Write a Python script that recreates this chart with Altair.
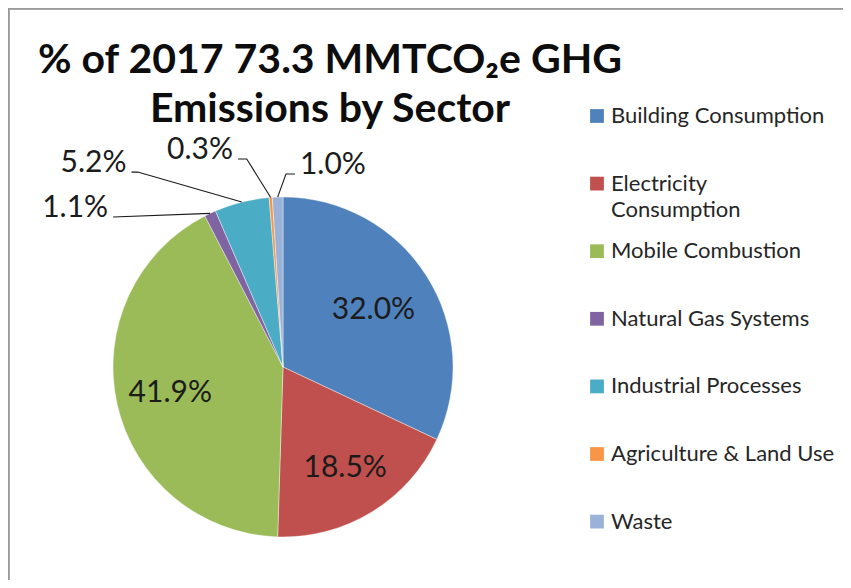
import math
import altair as alt
import pandas as pd

# ---------------- data ----------------
sectors = ["Building Consumption", "Electricity Consumption", "Mobile Combustion",
           "Natural Gas Systems", "Industrial Processes", "Agriculture & Land Use", "Waste"]
shares = [32.0, 18.5, 41.9, 1.1, 5.2, 0.3, 1.0]
legend_lines = [["Building Consumption"], ["Electricity", "Consumption"], ["Mobile Combustion"],
                ["Natural Gas Systems"], ["Industrial Processes"], ["Agriculture & Land Use"], ["Waste"]]
title_lines = ["% of 2017 73.3 MMTCO\u2082e GHG", "Emissions by Sector"]

# ---------------- style ----------------
colors = ["#4F81BD", "#C0504D", "#9BBB59", "#8064A2", "#4BACC6", "#F79646", "#9BB2D8"]
W, H = 835, 572
CX, CY, R = 275, 359, 170
FONT = "Lato"
inside_radius = {0: 0.63, 1: 0.70, 2: 0.68}
# elbow offset from slice edge (dx, dy), horizontal tail length, side
outside = {3: (-97, 3.6, 0, -1), 4: (-104, -30, 6.3, -1), 5: (-24, -38.4, 8.7, -1), 6: (8.3, -23.1, 9, 1)}
TEXT_GAP = 5
LEG_X, LEG_TOP, LEG_STEP, LEG_LH = 589, 108, 67.6, 26
TITLE_X, TITLE_Y, TITLE_LH = 322, 65, 49

# ---------------- derived tables ----------------
pie = pd.DataFrame({"sector": sectors, "share": shares, "idx": range(len(sectors))})
total = sum(shares)
cum = 0.0
inside_rows, line_rows, out_rows = [], [], []
for i, (s, v) in enumerate(zip(sectors, shares)):
    mid = (cum + v / 2) / total * 2 * math.pi
    cum += v
    label = f"{v:.1f}%"
    if i in inside_radius:
        r = inside_radius[i] * R
        inside_rows.append({"sector": s, "label": label,
                            "x": CX + r * math.sin(mid), "y": CY - r * math.cos(mid)})
    else:
        ex, ey = CX + R * math.sin(mid), CY - R * math.cos(mid)
        dx, dy, tail, side = outside[i]
        bx, by = ex + dx, ey + dy
        ax_, ay_ = bx + side * tail, by
        for k, (px, py) in enumerate([(ex, ey), (bx, by), (ax_, ay_)]):
            line_rows.append({"sector": s, "k": k, "x": px, "y": py})
        out_rows.append({"sector": s, "label": label, "x": ax_ + side * TEXT_GAP, "y": ay_,
                         "align": "left" if side > 0 else "right"})

inside_df = pd.DataFrame(inside_rows)
lines_df = pd.DataFrame(line_rows)
out_df = pd.DataFrame(out_rows)

leg_sym = pd.DataFrame({"sector": sectors, "x": [LEG_X] * len(sectors),
                        "y": [LEG_TOP + i * LEG_STEP for i in range(len(sectors))]})
leg_txt_rows = []
for i, (s, parts) in enumerate(zip(sectors, legend_lines)):
    for k, p in enumerate(parts):
        leg_txt_rows.append({"text": p, "x": LEG_X + 14, "y": LEG_TOP + i * LEG_STEP + k * LEG_LH})
leg_txt = pd.DataFrame(leg_txt_rows)

title_df = pd.DataFrame({"text": title_lines, "x": [TITLE_X] * 2,
                         "y": [TITLE_Y + k * TITLE_LH for k in range(2)]})

xs = alt.Scale(domain=[0, W], range=[0, W], nice=False, zero=False)
ys = alt.Scale(domain=[0, H], range=[0, H], nice=False, zero=False)
X = alt.X("x:Q", scale=xs, axis=None)
Y = alt.Y("y:Q", scale=ys, axis=None)
color = alt.Color("sector:N", scale=alt.Scale(domain=sectors, range=colors), legend=None)

arcs = alt.Chart(pie).mark_arc(outerRadius=R, stroke="#ffffff", strokeWidth=0.4).encode(
    theta=alt.Theta("share:Q", stack=True),
    color=color,
    order=alt.Order("idx:Q"),
    x=alt.value(CX), y=alt.value(CY),
)

inside_txt = alt.Chart(inside_df).mark_text(font=FONT, fontSize=30, color="#1b1b1b",
                                            baseline="middle", align="center").encode(
    x=X, y=Y, text="label:N")

leaders = alt.Chart(lines_df).mark_line(color="#1a1a1a", strokeWidth=1.1).encode(
    x=X, y=Y, detail="sector:N", order="k:Q")

out_left = alt.Chart(out_df[out_df["align"] == "right"]).mark_text(
    font=FONT, fontSize=30, color="#1b1b1b", align="right", baseline="alphabetic").encode(
    x=X, y=Y, text="label:N")
out_right = alt.Chart(out_df[out_df["align"] == "left"]).mark_text(
    font=FONT, fontSize=30, color="#1b1b1b", align="left", baseline="alphabetic").encode(
    x=X, y=Y, text="label:N")

leg_squares = alt.Chart(leg_sym).mark_square(size=190, opacity=1).encode(x=X, y=Y, color=color)
leg_text = alt.Chart(leg_txt).mark_text(font=FONT, fontSize=22, color="#262626",
                                        align="left", baseline="middle").encode(
    x=X, y=Y, text="text:N")

title = alt.Chart(title_df).mark_text(font=FONT, fontSize=41, fontWeight="bold", color="#0d0d0d",
                                      align="center", baseline="alphabetic").encode(
    x=X, y=Y, text="text:N")

border_left = alt.Chart(pie).mark_rule(color="#9a9a9a", strokeWidth=1.5).encode(
    x=alt.value(0.5), y=alt.value(0), y2=alt.value(H))
border_top = alt.Chart(pie).mark_rule(color="#9a9a9a", strokeWidth=1.5).encode(
    x=alt.value(0), x2=alt.value(W), y=alt.value(0.5))

chart = alt.layer(
    arcs, inside_txt, leaders, out_left, out_right, leg_squares, leg_text, title,
    border_left, border_top
).properties(
    width=W, height=H, padding=0, autosize=alt.AutoSizeParams(type="none"),
    background="#ffffff"
).configure_view(stroke=None)

chart.save("out.html", embed_options={"renderer": "svg", "actions": False})
